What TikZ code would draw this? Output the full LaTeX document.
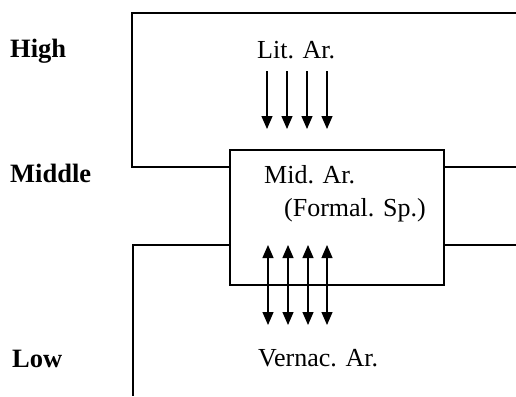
\documentclass[tikz,border=0pt]{standalone}
\usepackage{fontspec}
\setmainfont{Liberation Serif}
\usetikzlibrary{arrows.meta}
\begin{document}
\begin{tikzpicture}[x=1pt,y=-1pt,
  frame/.style={line width=1.5pt,line join=miter},
  txt/.style={font=\fontsize{26}{29}\selectfont,inner sep=0pt,anchor=base west},
  lvl/.style={font=\fontsize{26.5}{29}\selectfont\bfseries,inner sep=0pt,anchor=base west},
  flow/.style={line width=1.2pt,-{Triangle[length=13pt,width=11pt]}},
  both/.style={line width=1.2pt,{Triangle[length=13pt,width=11pt]}-{Triangle[length=13pt,width=11pt]}}]
\useasboundingbox (0,0) rectangle (516,396);
% frames
\draw[frame] (516,13) -- (132,13) -- (132,167) -- (229,167);
\draw[frame] (443,167) -- (516,167);
\node[frame,draw,minimum width=214pt,minimum height=135pt,inner sep=0pt,anchor=north west] (mid) at (229,149) {};
\draw[frame] (229,245) -- (133,245) -- (133,396);
\draw[frame] (443,245) -- (516,245);
% level labels
\node[lvl] (high) at (10,57) {High};
\node[lvl] (middle) at (10,182) {Middle};
\node[lvl] (low) at (12,367) {Low};
% texts
\node[txt] (lit) at (257,59) {Lit. Ar.};
\node[txt] (midar) at (264,183) {Mid. Ar.};
\node[txt] (formal) at (284,216) {(Formal. Sp.)};
\node[txt] (vern) at (258,366) {Vernac. Ar.};
% arrows
\foreach \i/\x in {1/267,2/287,3/307,4/327}{
  \coordinate (d\i s) at (\x,71);
  \coordinate (d\i e) at (\x,129);
  \draw[flow] (d\i s) -- (d\i e);
}
\foreach \i/\x in {1/268,2/288,3/308,4/327}{
  \coordinate (u\i s) at (\x,245);
  \coordinate (u\i e) at (\x,325);
  \draw[both] (u\i s) -- (u\i e);
}
\end{tikzpicture}
\end{document}
